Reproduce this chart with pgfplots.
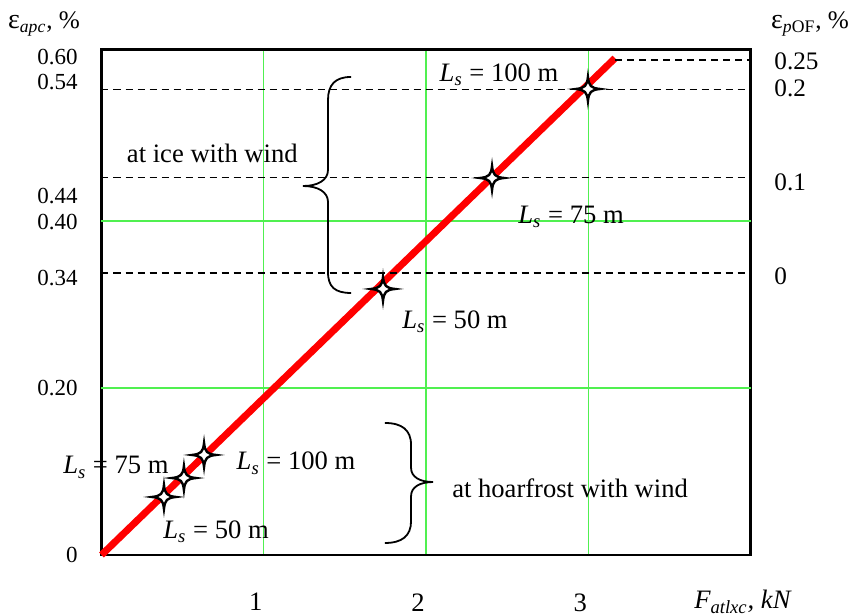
\documentclass[border=0pt]{standalone}
\usepackage{fontspec}
\setmainfont{Liberation Serif}
\usepackage{pgfplots}
\pgfplotsset{compat=1.18}
\definecolor{gridgreen}{RGB}{80,240,80}
\pgfdeclareplotmark{star4}{%
  \pgfpathmoveto{\pgfqpoint{0pt}{\pgfplotmarksize}}%
  \pgfpathcurveto{\pgfqpoint{0.08\pgfplotmarksize}{0.25\pgfplotmarksize}}{\pgfqpoint{0.25\pgfplotmarksize}{0.08\pgfplotmarksize}}{\pgfqpoint{\pgfplotmarksize}{0pt}}%
  \pgfpathcurveto{\pgfqpoint{0.25\pgfplotmarksize}{-0.08\pgfplotmarksize}}{\pgfqpoint{0.08\pgfplotmarksize}{-0.25\pgfplotmarksize}}{\pgfqpoint{0pt}{-\pgfplotmarksize}}%
  \pgfpathcurveto{\pgfqpoint{-0.08\pgfplotmarksize}{-0.25\pgfplotmarksize}}{\pgfqpoint{-0.25\pgfplotmarksize}{-0.08\pgfplotmarksize}}{\pgfqpoint{-\pgfplotmarksize}{0pt}}%
  \pgfpathcurveto{\pgfqpoint{-0.25\pgfplotmarksize}{0.08\pgfplotmarksize}}{\pgfqpoint{-0.08\pgfplotmarksize}{0.25\pgfplotmarksize}}{\pgfqpoint{0pt}{\pgfplotmarksize}}%
  \pgfpathclose
  \pgfusepathqfillstroke
}
\begin{document}
\begin{tikzpicture}
\useasboundingbox (-50.75pt,-30pt) rectangle (374.25pt,277.5pt);
\begin{axis}[
  at={(0pt,0pt)}, anchor=south west,
  scale only axis, width=324.5pt, height=252.75pt,
  xmin=0, xmax=4, ymin=0, ymax=0.6054,
  clip=false,
  axis line style={line width=1.2pt},
  /pgf/number format/assume math mode=true,
  xtick={1,2,3}, xticklabels={1,2,3},
  ytick={0,0.2,0.332,0.399,0.430,0.566,0.596},
  yticklabels={0,0.20,0.34,0.40,0.44,0.54,0.60},
  major tick length=0pt,
  xmajorgrids=true,
  grid style={gridgreen, line width=0.6pt},
  extra y ticks={0.2,0.4}, extra y tick labels={},
  extra y tick style={grid=major, major tick length=0pt},
  yticklabel style={font=\fontsize{11.5}{13}\selectfont, anchor=east, inner sep=0pt, xshift=-11.75pt},
  xticklabel style={font=\fontsize{13.3}{16}\selectfont, anchor=north, inner sep=0pt, yshift=-19pt, xshift=-4pt},
]
% red characteristic line
\addplot[red, line width=3.5pt, forget plot] coordinates {(0,0) (3.165,0.595)};
% dashed reference levels
\addplot[black, line width=0.8pt, dash pattern=on 3.5pt off 2.5pt, forget plot] coordinates {(0,0.5577) (4,0.5577)};
\addplot[black, line width=0.8pt, dash pattern=on 3.5pt off 2.5pt, forget plot] coordinates {(0,0.4519) (4,0.4519)};
\addplot[black, line width=0.8pt, dash pattern=on 3.5pt off 2.5pt, forget plot] coordinates {(0,0.3374) (4,0.3374)};
\addplot[black, line width=0.8pt, dash pattern=on 3.5pt off 2.5pt, forget plot] coordinates {(3.165,0.593) (4,0.593)};
% star points
\addplot[only marks, mark=star4, mark size=6pt, mark options={fill=white, draw=black, line width=1.2pt}, forget plot]
  coordinates {(0.385,0.0695) (0.508,0.0922) (0.632,0.1198) (1.735,0.3186) (2.407,0.4515) (2.998,0.5581)};
% braces
\draw[line width=0.9pt] (axis cs:1.538,0.5725) .. controls (axis cs:1.439,0.5725) and (axis cs:1.396,0.5629) .. (axis cs:1.396,0.5449)
  -- (axis cs:1.396,0.4611) .. controls (axis cs:1.396,0.4491) and (axis cs:1.334,0.4419) .. (axis cs:1.242,0.4419)
  .. controls (axis cs:1.334,0.4419) and (axis cs:1.396,0.4347) .. (axis cs:1.396,0.4228)
  -- (axis cs:1.396,0.3389) .. controls (axis cs:1.396,0.3210) and (axis cs:1.439,0.3138) .. (axis cs:1.538,0.3138);
\draw[line width=0.9pt] (axis cs:1.747,0.1581) .. controls (axis cs:1.852,0.1581) and (axis cs:1.908,0.1497) .. (axis cs:1.908,0.1317)
  -- (axis cs:1.908,0.1042) .. controls (axis cs:1.908,0.0934) and (axis cs:1.963,0.0874) .. (axis cs:2.043,0.0874)
  .. controls (axis cs:1.963,0.0874) and (axis cs:1.908,0.0814) .. (axis cs:1.908,0.0707)
  -- (axis cs:1.908,0.0407) .. controls (axis cs:1.908,0.0228) and (axis cs:1.852,0.0144) .. (axis cs:1.747,0.0144);
% annotations
\begin{scope}[every node/.style={font=\fontsize{13.3}{16}\selectfont, inner sep=0pt}]
\node at (axis cs:2.45,0.575) {\textit{L}\textsubscript{\textit{s}} = 100 m};
\node at (axis cs:2.894,0.405) {\textit{L}\textsubscript{\textit{s}} = 75 m};
\node at (axis cs:2.179,0.279) {\textit{L}\textsubscript{\textit{s}} = 50 m};
\node at (axis cs:0.089,0.105) {\textit{L}\textsubscript{\textit{s}} = 75 m};
\node at (axis cs:1.199,0.110) {\textit{L}\textsubscript{\textit{s}} = 100 m};
\node at (axis cs:0.706,0.0275) {\textit{L}\textsubscript{\textit{s}} = 50 m};
\node at (axis cs:0.683,0.481) {at ice with wind};
\node at (axis cs:2.888,0.080) {at hoarfrost with wind};
\node at (axis cs:3.954,-0.0563) {\textit{F\textsubscript{atlxc}, kN}};
\end{scope}
\begin{scope}[every node/.style={font=\fontsize{12.6}{15}\selectfont, inner sep=0pt}]
\node[anchor=west, xshift=11.75pt] at (axis cs:4,0.591) {0.25};
\node[anchor=west, xshift=11.75pt] at (axis cs:4,0.559) {0.2};
\node[anchor=west, xshift=11.75pt] at (axis cs:4,0.446) {0.1};
\node[anchor=west, xshift=11.75pt] at (axis cs:4,0.334) {0};
\node at (axis cs:-0.354,0.636) {\fontsize{14}{16}\selectfont ε\fontsize{12.6}{15}\selectfont\textsubscript{\textit{apc}}, \%};
\node at (axis cs:4.367,0.636) {\fontsize{14}{16}\selectfont ε\fontsize{12.6}{15}\selectfont\textsubscript{\textit{p}OF}, \%};
\end{scope}
\end{axis}
\end{tikzpicture}
\end{document}
